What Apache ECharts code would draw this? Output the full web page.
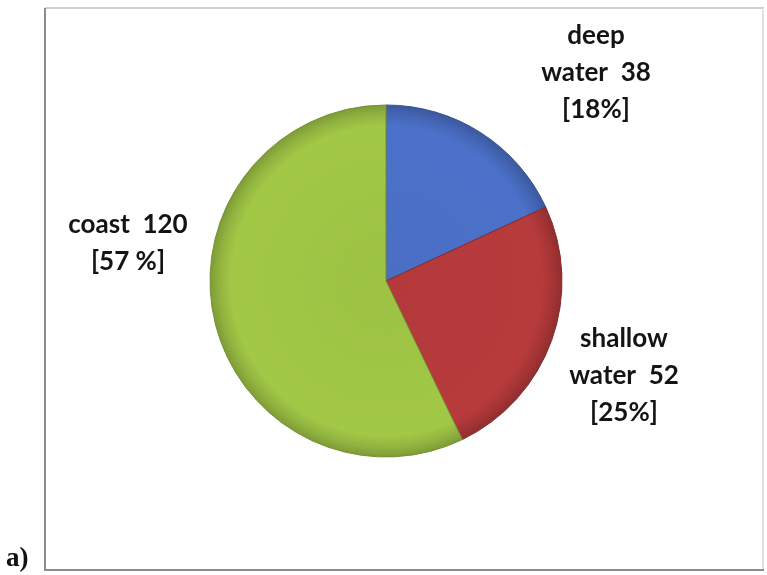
<!DOCTYPE html>
<html>
<head>
<meta charset="utf-8">
<script src="https://cdn.jsdelivr.net/npm/echarts@6/dist/echarts.min.js"></script>
<style>
  html, body { margin: 0; padding: 0; background: #ffffff; }
  #chart { width: 767px; height: 575px; }
</style>
</head>
<body>
<div id="chart"></div>
<script>
// Habitat categories and counts
const categories = ['deep\nwater', 'shallow\nwater', 'coast'];
const counts = [38, 52, 120];
const percentFormats = ['[{p}%]', '[{p}%]', '[{p} %]'];
const sliceColors = ['#4a6ec4', '#b3393a', '#9dc244'];
const panelLetter = 'a)';

// Label anchor points (centre of each text block)
const labelAnchors = [[596, 73], [624, 376], [128, 243]];

const cx = 386, cy = 281, R = 176;

function shade(hex, f) {
  const n = parseInt(hex.slice(1), 16);
  let r = (n >> 16) & 255, g = (n >> 8) & 255, b = n & 255;
  r = Math.round(Math.min(255, r * f));
  g = Math.round(Math.min(255, g * f));
  b = Math.round(Math.min(255, b * f));
  return 'rgb(' + r + ',' + g + ',' + b + ')';
}

function bevel(hex) {
  return {
    type: 'radial', x: cx, y: cy, r: R, global: true,
    colorStops: [
      { offset: 0, color: shade(hex, 1.0) },
      { offset: 0.88, color: shade(hex, 1.03) },
      { offset: 0.95, color: shade(hex, 0.92) },
      { offset: 1, color: shade(hex, 0.8) }
    ]
  };
}

const chart = echarts.init(document.getElementById('chart'));

const data = categories.map((c, i) => ({
  name: c,
  value: counts[i],
  itemStyle: { color: bevel(sliceColors[i]), borderColor: shade(sliceColors[i], 0.75), borderWidth: 1 }
}));

chart.setOption({
  animation: false,
  backgroundColor: '#ffffff',
  graphic: [
    // frame: light top/right, darker left/bottom
    { type: 'line', shape: { x1: 45, y1: 8, x2: 764, y2: 8 }, style: { stroke: '#cfcfcf', lineWidth: 2 } },
    { type: 'line', shape: { x1: 763, y1: 8, x2: 763, y2: 570 }, style: { stroke: '#e2e2e2', lineWidth: 2 } },
    { type: 'line', shape: { x1: 45, y1: 8, x2: 45, y2: 571 }, style: { stroke: '#8c8c8c', lineWidth: 2 } },
    { type: 'line', shape: { x1: 45, y1: 570, x2: 764, y2: 570 }, style: { stroke: '#8c8c8c', lineWidth: 2 } },
    {
      type: 'text', left: 6, top: 546,
      style: { text: panelLetter, font: 'bold 27px "Liberation Serif", serif', fill: '#111' }
    }
  ],
  series: [{
    type: 'pie',
    center: [cx, cy],
    radius: R,
    startAngle: 90,
    clockwise: true,
    data: data,
    label: {
      show: true,
      position: 'outside',
      formatter: p => p.name + '  ' + p.value + '\n' +
        percentFormats[p.dataIndex].replace('{p}', Math.round(p.percent)),
      fontFamily: 'Lato, "Open Sans", sans-serif',
      fontWeight: 'bold',
      fontSize: 26,
      lineHeight: 37,
      color: '#141414',
      align: 'center'
    },
    labelLine: { show: false },
    labelLayout: p => ({
      x: labelAnchors[p.dataIndex][0],
      y: labelAnchors[p.dataIndex][1],
      align: 'center',
      verticalAlign: 'middle'
    }),
    emphasis: { disabled: true }
  }]
});
</script>
</body>
</html>
